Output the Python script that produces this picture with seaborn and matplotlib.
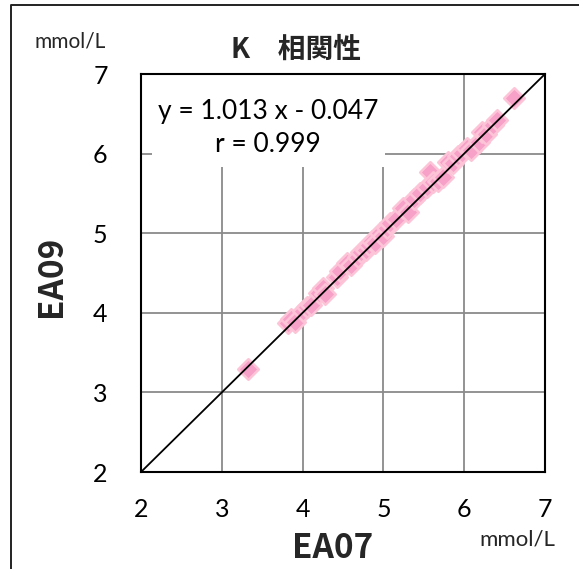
import matplotlib
matplotlib.use("Agg")
import matplotlib.pyplot as plt
from matplotlib.patches import Rectangle
from matplotlib.lines import Line2D
import seaborn as sns
import pandas as pd

# ---- data ----
ea07 = [3.32, 3.82, 3.86, 3.90, 4.00, 4.05, 4.10, 4.20, 4.25, 4.28,
        4.42, 4.46, 4.55, 4.60, 4.68, 4.72, 4.78, 4.82, 4.86, 4.90,
        4.96, 5.00, 5.04, 5.08, 5.15, 5.24, 5.30, 5.38, 5.45, 5.54,
        5.58, 5.62, 5.68, 5.74, 5.80, 5.86, 5.92, 5.97, 6.03, 6.08,
        6.18, 6.22, 6.27, 6.36, 6.40, 6.62]
ea09 = [3.30, 3.87, 3.92, 3.88, 4.02, 4.07, 4.10, 4.25, 4.31, 4.24,
        4.45, 4.52, 4.62, 4.60, 4.70, 4.76, 4.79, 4.85, 4.90, 4.88,
        5.00, 4.97, 5.06, 5.13, 5.18, 5.32, 5.27, 5.43, 5.50, 5.58,
        5.77, 5.64, 5.66, 5.71, 5.90, 5.88, 5.97, 6.01, 6.07, 6.05,
        6.14, 6.27, 6.24, 6.36, 6.42, 6.70]
ticks = [2, 3, 4, 5, 6, 7]
title = "K\u3000相関性"
xlabel = "EA07"
ylabel = "EA09"
unit = "mmol/L"
eq_text = "y = 1.013 x - 0.047"
r_text = "r = 0.999"

df = pd.DataFrame({"EA07": ea07, "EA09": ea09})

sns.set_theme(style="white")
plt.rcParams["font.family"] = ["Lato", "DejaVu Sans"]

W, H = 579, 569
fig = plt.figure(figsize=(W / 100, H / 100), dpi=100)
ax = fig.add_axes([141 / W, 1 - 472 / H, 404 / W, 398 / H])

sns.scatterplot(data=df, x="EA07", y="EA09", ax=ax, marker="D", s=110,
                color="#F7A0C8", edgecolor="#FDC3D6", linewidth=1.8,
                zorder=3, legend=False)
ax.plot([2, 7], [2, 7], color="black", lw=1.3, zorder=4)

ax.set_xlim(2, 7)
ax.set_ylim(2, 7)
ax.set_xticks(ticks)
ax.set_yticks(ticks)
ax.set_xticklabels([str(t) for t in ticks])
ax.set_yticklabels([str(t) for t in ticks])
ax.grid(True, color="#8a8a8a", lw=1.3)
ax.set_axisbelow(True)
for s in ax.spines.values():
    s.set_color("black")
    s.set_linewidth(1.5)
    s.set_visible(True)
ax.tick_params(axis="both", direction="in", length=3.5, width=1.2,
               color="black", labelsize=18, labelcolor="black")
ax.tick_params(axis="x", pad=19)
ax.tick_params(axis="y", pad=24)
ax.set_xlabel("")
ax.set_ylabel("")

# white box with regression text
ax.add_patch(Rectangle((11 / 404, 1 - 93 / 398), 233 / 404, 93 / 398,
                       transform=ax.transAxes, facecolor="white",
                       edgecolor="none", zorder=1))
fig.text(268 / W, 1 - 111 / H, eq_text, ha="center", va="center",
         fontsize=19, color="black")
fig.text(268 / W, 1 - 145 / H, r_text, ha="center", va="center",
         fontsize=19, color="black")

# titles / labels
fig.text(296 / W, 1 - 50 / H, title, ha="center", va="center",
         fontsize=20, fontweight="bold",
         family=["Noto Sans CJK JP", "DejaVu Sans"])
fig.text(333 / W, 1 - 548 / H, xlabel, ha="center", va="center",
         fontsize=24, fontweight="bold",
         family=["Noto Sans CJK JP", "DejaVu Sans"])
fig.text(52 / W, 1 - 276 / H, ylabel, ha="center", va="center",
         fontsize=24, fontweight="bold", rotation=90,
         family=["Noto Sans CJK JP", "DejaVu Sans"])
fig.text(70 / W, 1 - 42 / H, unit, ha="center", va="center", fontsize=15)
fig.text(517 / W, 1 - 539 / H, unit, ha="center", va="center", fontsize=16)

# outer frame (top and left edges only visible)
fig.lines.append(Line2D([11 / W, 11 / W, 1.0], [0.0, 1 - 4.5 / H, 1 - 4.5 / H],
                        transform=fig.transFigure, color="#222222", lw=1.4))

fig.savefig("out.png", dpi=100)
